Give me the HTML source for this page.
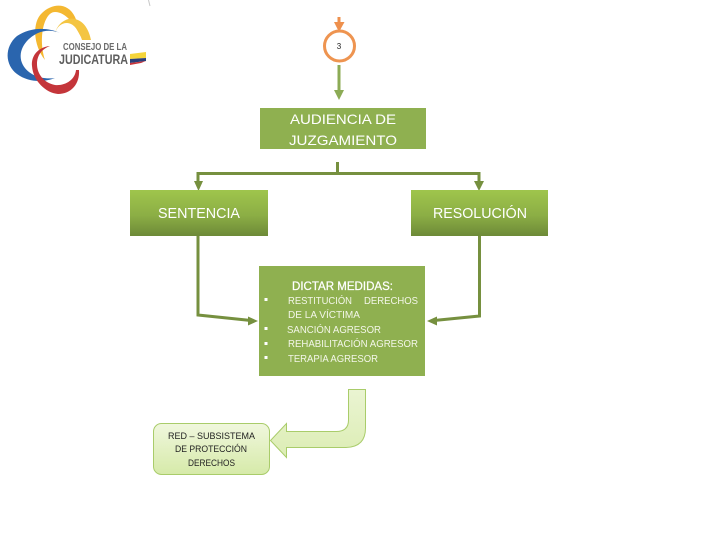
<!DOCTYPE html>
<html><head><meta charset="utf-8"><style>
html,body{margin:0;padding:0;background:#fff}
svg{display:block}
text{font-family:"Liberation Sans",sans-serif}
</style></head><body>
<svg width="720" height="540" viewBox="0 0 720 540" xmlns="http://www.w3.org/2000/svg">
<defs>
<linearGradient id="g" x1="0" y1="0" x2="0" y2="1"><stop offset="0" stop-color="#9fc54c"/><stop offset=".55" stop-color="#8cae45"/><stop offset="1" stop-color="#6d8a38"/></linearGradient>
<linearGradient id="r" x1="0" y1="0" x2="0" y2="1"><stop offset="0" stop-color="#f0f7dd"/><stop offset="1" stop-color="#d6eaa9"/></linearGradient>
<linearGradient id="a" x1="0" y1="0" x2="0" y2="1"><stop offset="0" stop-color="#eaf4d2"/><stop offset="1" stop-color="#dcedb4"/></linearGradient>
</defs>
<rect width="720" height="540" fill="#fff"/>

<!-- logo -->
<path d="M148.500 0L150 6" stroke="#c8c8c8" stroke-width="1" fill="none"/>
<path d="M45 60C33 45 32 22 42 13C52 3 68 2 75 17C78 24 80 30 81 37C75 25 66 12 55 12C44 12 38 38 45 60Z" fill="#f4b831"/>
<path d="M55 33C58 22 68 17 75 19C84 21 89 30 91 40L82 40C79 30 73 23 67 23C61 23 57 27 55 33Z" fill="#f4c542"/>
<path d="M60 33C48 27 30 27 17 36C4 47 5 65 17 74C29 83 45 82 55 78C42 80 27 75 22 63C17 50 27 38 38 33C45 30 53 30 60 33Z" fill="#2a65ae"/>
<path d="M50 46C38 47 31 56 32 66C33 81 46 93 58 94C71 94 80 84 79 70L76 70C75 80 65 86 55 85C44 83 37 74 37 64C37 55 42 49 50 46Z" fill="#c4353a"/>
<text x="63" y="50" font-size="10.500" font-weight="bold" fill="#6b6b6b" textLength="64" lengthAdjust="spacingAndGlyphs">CONSEJO DE LA</text>
<text x="59" y="64" font-size="14" font-weight="bold" fill="#5e5e5e" textLength="69" lengthAdjust="spacingAndGlyphs">JUDICATURA</text>
<polygon points="130,54 146,52 146,58 130,59" fill="#f5d53a"/>
<polygon points="130,59 146,58 146,61 130,63" fill="#2b3f7a"/>
<polygon points="130,63 146,61 141,63 130,65" fill="#c8343a"/>

<!-- top connector -->
<path d="M339 17V27" stroke="#ee904d" stroke-width="3" fill="none"/>
<polygon points="334,22 344.500,22 339,32" fill="#ee904d"/>
<circle cx="339.500" cy="46" r="15" fill="#fff" stroke="#ee9450" stroke-width="3"/>
<text x="339" y="49" font-size="8" text-anchor="middle" fill="#222">3</text>
<path d="M339 65V92" stroke="#8cab55" stroke-width="3" fill="none"/>
<polygon points="334,90 344,90 339,100" fill="#8cab55"/>

<!-- audiencia -->
<rect x="260" y="108" width="166" height="41" fill="#8fb050"/>
<text x="290" y="124" font-size="14" fill="#fff" textLength="106" lengthAdjust="spacingAndGlyphs">AUDIENCIA DE</text>
<text x="289" y="145" font-size="14" fill="#fff" textLength="108" lengthAdjust="spacingAndGlyphs">JUZGAMIENTO</text>

<!-- branch -->
<path d="M337.500 162V173M198 186V173.500H479V186" stroke="#76903f" stroke-width="3" fill="none"/>
<polygon points="194,181 203,181 198.500,191" fill="#76903f"/>
<polygon points="474,181 484,181 479,191" fill="#76903f"/>

<!-- sentencia / resolucion -->
<rect x="130" y="190" width="138" height="46" fill="url(#g)"/>
<text x="158" y="218" font-size="14.500" fill="#fff" textLength="82" lengthAdjust="spacingAndGlyphs">SENTENCIA</text>
<rect x="411" y="190" width="137" height="46" fill="url(#g)"/>
<text x="433" y="218" font-size="14.500" fill="#fff" textLength="94" lengthAdjust="spacingAndGlyphs">RESOLUCIÓN</text>

<!-- side connectors -->
<path d="M198 236V315L251 320.500" stroke="#76903f" stroke-width="3" fill="none"/>
<polygon points="248,316.500 258,321 248,325.500" fill="#76903f"/>
<path d="M479.500 236V316L434 320.500" stroke="#76903f" stroke-width="3" fill="none"/>
<polygon points="437,316.500 427,321 437,325.500" fill="#76903f"/>

<!-- dictar medidas -->
<rect x="259" y="266" width="166" height="110" fill="#8fb050"/>
<text x="292" y="290" font-size="11.500" fill="#fff" stroke="#fff" stroke-width=".25" textLength="101" lengthAdjust="spacingAndGlyphs">DICTAR MEDIDAS:</text>
<g fill="#fff">
<rect x="264.500" y="298" width="3" height="3"/><rect x="264.500" y="327" width="3" height="3"/><rect x="264.500" y="342" width="3" height="3"/><rect x="264.500" y="356" width="3" height="3"/>
</g>
<g fill="#f3f6e8" font-size="10.500">
<text x="288" y="304" textLength="64" lengthAdjust="spacingAndGlyphs">RESTITUCIÓN</text>
<text x="364" y="304" textLength="54" lengthAdjust="spacingAndGlyphs">DERECHOS</text>
<text x="288" y="318" textLength="72" lengthAdjust="spacingAndGlyphs">DE LA VÍCTIMA</text>
<text x="287" y="333" textLength="94" lengthAdjust="spacingAndGlyphs">SANCIÓN AGRESOR</text>
<text x="288" y="347" textLength="130" lengthAdjust="spacingAndGlyphs">REHABILITACIÓN AGRESOR</text>
<text x="288" y="362" textLength="90" lengthAdjust="spacingAndGlyphs">TERAPIA AGRESOR</text>
</g>

<!-- red box -->
<rect x="153.500" y="423.500" width="116" height="51" rx="8" fill="url(#r)" stroke="#a9cc6a"/>
<g fill="#222" font-size="9.500">
<text x="168" y="439" textLength="87" lengthAdjust="spacingAndGlyphs">RED – SUBSISTEMA</text>
<text x="175" y="452" textLength="72" lengthAdjust="spacingAndGlyphs">DE PROTECCIÓN</text>
<text x="188" y="466" textLength="47" lengthAdjust="spacingAndGlyphs">DERECHOS</text>
</g>

<!-- bent arrow -->
<path d="M348.500 389.500H365.500V428Q365.500 447 346 447.500H286.500V457.500L270.500 440.500L286.500 423.500V431.500H336Q348.500 431.500 348.500 420Z" fill="url(#a)" stroke="#a9cc6a" stroke-width="1"/>
</svg>
</body></html>
